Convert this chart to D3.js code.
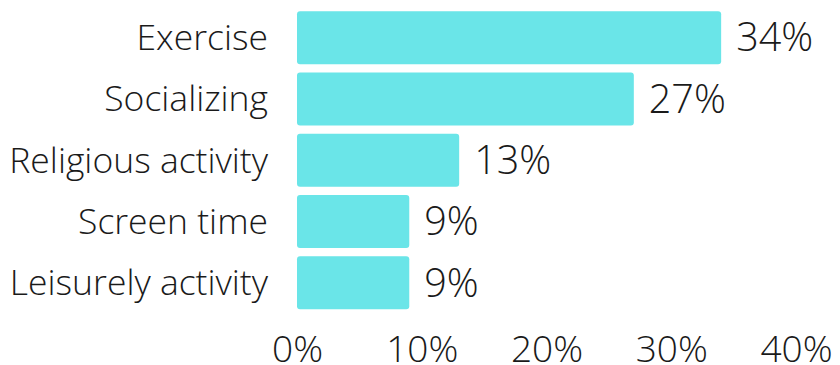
<!DOCTYPE html>
<html>
<head>
<meta charset="utf-8">
<script src="https://cdn.jsdelivr.net/npm/d3@7"></script>
<style>
  html, body { margin: 0; padding: 0; background: #fff; }
  svg text { font-family: "Open Sans", sans-serif; font-weight: 300; fill: #1a1a1a; }
</style>
</head>
<body>
<svg id="chart" width="840" height="365"></svg>
<script>
const categories = ["Exercise", "Socializing", "Religious activity", "Screen time", "Leisurely activity"];
const values = [34, 27, 13, 9, 9];
const valueLabels = ["34%", "27%", "13%", "9%", "9%"];
const tickValues = [0, 10, 20, 30, 40];
const tickLabels = ["0%", "10%", "20%", "30%", "40%"];

const svg = d3.select("#chart");
const x = d3.scaleLinear().domain([0, 40]).range([297, 796]);
const y = d3.scaleBand().domain(categories).range([7, 313.5]).paddingInner(0.135).paddingOuter(0.0675);

const data = categories.map((c, i) => ({ c, v: values[i], label: valueLabels[i] }));

svg.append("g").selectAll("rect").data(data).join("rect")
  .attr("x", x(0))
  .attr("y", d => y(d.c))
  .attr("width", d => x(d.v) - x(0))
  .attr("height", y.bandwidth())
  .attr("rx", 3)
  .attr("fill", "#6ae5e8");

svg.append("g").selectAll("text").data(data).join("text")
  .attr("x", x(0) - 29)
  .attr("y", d => y(d.c) + y.bandwidth() / 2)
  .attr("dy", "0.35em")
  .attr("text-anchor", "end")
  .style("font-size", "35.5px")
  .text(d => d.c);

svg.append("g").selectAll("text").data(data).join("text")
  .attr("x", d => x(d.v) + 15)
  .attr("y", d => y(d.c) + y.bandwidth() / 2)
  .attr("dy", "0.35em")
  .attr("text-anchor", "start")
  .style("font-size", "39.5px")
  .text(d => d.label);

const axis = d3.axisBottom(x).tickValues(tickValues).tickFormat((d, i) => tickLabels[i]).tickSize(0).tickPadding(0);
const ag = svg.append("g").attr("transform", "translate(0,336)").call(axis);
ag.select(".domain").remove();
ag.selectAll("text").style("font-size", "37px").style("font-family", "'Open Sans', sans-serif").style("font-weight", 300).attr("fill", "#1a1a1a");
</script>
</body>
</html>
